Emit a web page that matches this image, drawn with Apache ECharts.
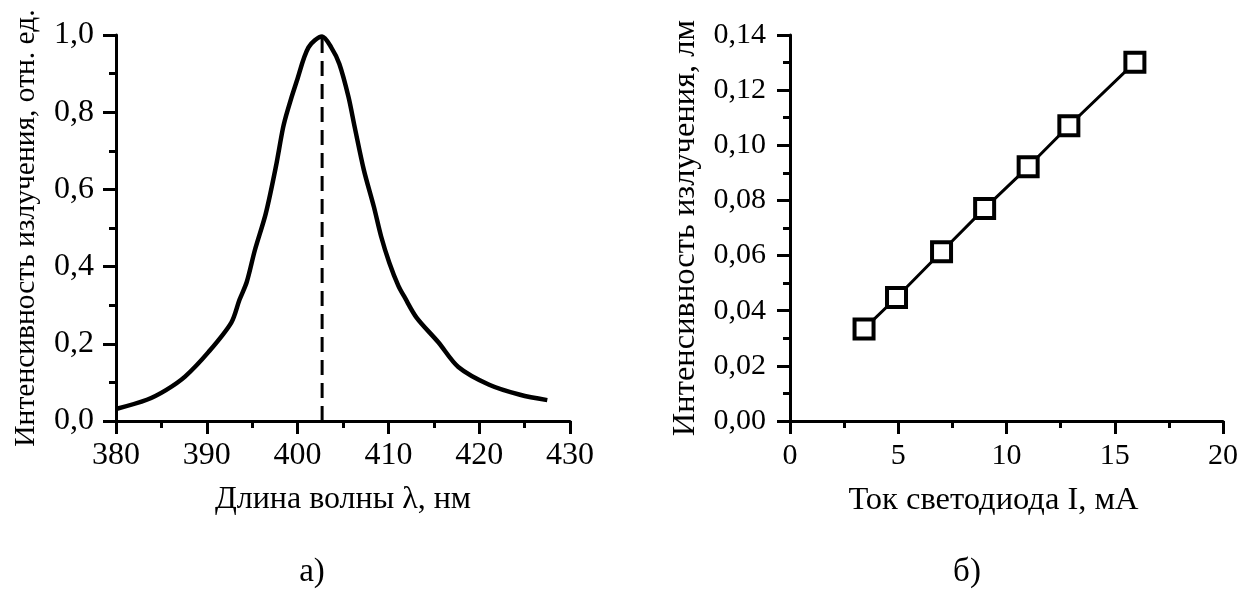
<!DOCTYPE html>
<html>
<head>
<meta charset="utf-8">
<script src="https://cdn.jsdelivr.net/npm/echarts@6/dist/echarts.min.js"></script>
<style>
  html, body { margin: 0; padding: 0; background: #fff; }
  #chart { width: 1241px; height: 590px; }
</style>
</head>
<body>
<div id="chart"></div>
<script>
// спектр излучения (а)
var wavelength = [380, 383.4, 385.5, 387.6, 390.2, 392.7, 393.6, 394.4, 395.3, 396.5, 397.6, 398.4, 398.9, 399.9, 401.2, 402.7,
  403.7, 404.6, 405.6, 406.3, 407.3, 408.4, 409.2, 410.1, 411.1, 411.8, 413.1, 415.5, 417.7, 421.1, 424.5, 427.5];
var intensity = [0.031, 0.055, 0.08, 0.115, 0.179, 0.255, 0.314, 0.36, 0.443, 0.538, 0.658, 0.76, 0.805, 0.88, 0.968, 0.996,
  0.968, 0.925, 0.84, 0.76, 0.65, 0.555, 0.478, 0.41, 0.35, 0.32, 0.268, 0.204, 0.14, 0.094, 0.068, 0.054];
var peakLambda = 402.7;

// световой поток от тока (б)
var current = [3.42, 4.92, 7.0, 8.99, 11.0, 12.88, 15.93];
var flux = [0.0334, 0.0448, 0.0614, 0.0771, 0.0922, 0.1071, 0.1301];

var FONT = '"Liberation Serif", "Times New Roman", serif';
var BLACK = '#000';

function pairs(xs, ys) {
  return xs.map(function (x, i) { return [x, ys[i]]; });
}

function axisCommon(labelSize, nameSize) {
  return {
    axisLine: { show: true, onZero: false, lineStyle: { color: BLACK, width: 3 } },
    axisTick: { show: true, inside: false, length: 13, lineStyle: { color: BLACK, width: 3 } },
    minorTick: { show: true, splitNumber: 2, length: 7, lineStyle: { color: BLACK, width: 3 } },
    splitLine: { show: false },
    axisLabel: { color: BLACK, fontFamily: FONT, fontSize: labelSize },
    nameTextStyle: { color: BLACK, fontFamily: FONT, fontSize: nameSize },
    nameLocation: 'middle'
  };
}

var chart = echarts.init(document.getElementById('chart'));

var xA = Object.assign(axisCommon(32, 32), {
  type: 'value', gridIndex: 0, min: 380, max: 430, interval: 10,
  name: 'Длина волны λ, нм', nameGap: 63
});
xA.axisLabel.margin = 19;
var yA = Object.assign(axisCommon(32, 29.5), {
  type: 'value', gridIndex: 0, min: 0, max: 1, interval: 0.2,
  name: 'Интенсивность излучения, отн. ед.', nameGap: 75
});
yA.axisLabel.margin = 22;
yA.axisLabel.formatter = function (v) { return v.toFixed(1).replace('.', ','); };

var xB = Object.assign(axisCommon(30, 32.5), {
  type: 'value', gridIndex: 1, min: 0, max: 20, interval: 5,
  name: 'Ток светодиода I, мА', nameGap: 63
});
xB.axisLabel.margin = 20;
xB.nameTextStyle.padding = [0, 26, 0, 0];
var yB = Object.assign(axisCommon(30, 32.5), {
  type: 'value', gridIndex: 1, min: 0, max: 0.14, interval: 0.02,
  name: 'Интенсивность излучения, лм', nameGap: 88
});
yB.axisLabel.margin = 24;
yB.axisLabel.formatter = function (v) { return v.toFixed(2).replace('.', ','); };

var option = {
  backgroundColor: '#fff',
  animation: false,
  title: [
    { text: 'а)', left: 307, top: 551, textAlign: 'center',
      textStyle: { color: BLACK, fontFamily: FONT, fontSize: 33, fontWeight: 'normal' } },
    { text: 'б)', left: 962, top: 551, textAlign: 'center',
      textStyle: { color: BLACK, fontFamily: FONT, fontSize: 33, fontWeight: 'normal' } }
  ],
  grid: [
    { left: 116, top: 35, width: 454, height: 386 },
    { left: 790, top: 35, width: 435, height: 386 }
  ],
  xAxis: [xA, xB],
  yAxis: [yA, yB],
  series: [
    {
      type: 'line', xAxisIndex: 0, yAxisIndex: 0,
      data: pairs(wavelength, intensity),
      smooth: 0.3, showSymbol: false,
      lineStyle: { color: BLACK, width: 4.5 }
    },
    {
      type: 'line', xAxisIndex: 0, yAxisIndex: 0,
      data: [[peakLambda, 0], [peakLambda, 0.996]],
      showSymbol: false,
      lineStyle: { color: BLACK, width: 3, type: [15, 8] }
    },
    {
      type: 'line', xAxisIndex: 1, yAxisIndex: 1,
      data: pairs(current, flux),
      symbol: 'rect', symbolSize: 19,
      itemStyle: { color: '#fff', borderColor: BLACK, borderWidth: 4 },
      lineStyle: { color: BLACK, width: 3 }
    }
  ]
};

chart.setOption(option);
</script>
</body>
</html>
